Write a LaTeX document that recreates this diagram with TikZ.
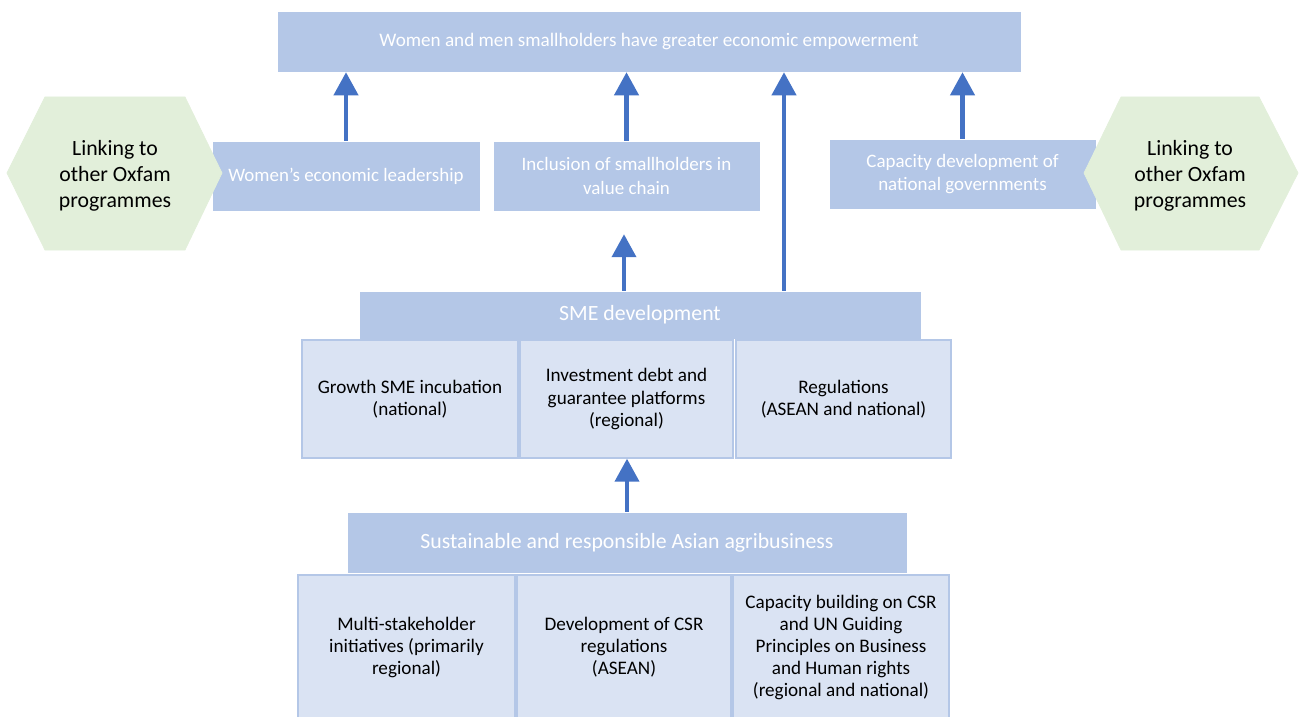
\documentclass[tikz,border=0pt]{standalone}
\usepackage{fontspec}
\setmainfont{Carlito}
\usetikzlibrary{arrows.meta}
\definecolor{midblue}{HTML}{B4C7E7}
\definecolor{paleblue}{HTML}{DAE3F3}
\definecolor{arrowblue}{HTML}{4472C4}
\definecolor{palegreen}{HTML}{E2EFDA}
\tikzset{
  darkbox/.style={fill=midblue, draw=white, line width=0.3pt, text=white, align=center, inner sep=2pt},
  lightbox/.style={fill=paleblue, draw=midblue, line width=0.8pt, text=black, align=center, inner sep=2pt,
    font=\fontsize{10.9}{12.6}\selectfont},
  uparrow/.style={draw=arrowblue, line width=2.3pt, -{Triangle[length=0.46cm,width=0.48cm]}},
  linktext/.style={align=center, font=\fontsize{12.4}{14.8}\selectfont}
}
\begin{document}
\begin{tikzpicture}[x=0.02cm,y=-0.02cm]
   \useasboundingbox (0,0) rectangle (1300,716);
   % outcome at the top
   \node [darkbox, minimum width=14.88cm, minimum height=1.22cm, font=\fontsize{10.9}{13}\selectfont] (goal) at (649,41.5)
     {Women and men smallholders have greater economic empowerment};
   % intermediate outcomes
   \node [darkbox, minimum width=5.36cm, minimum height=1.4cm, font=\fontsize{10.8}{13.6}\selectfont] (women) at (346,176)
     {Women's economic leadership};
   \node [darkbox, minimum width=5.34cm, minimum height=1.4cm, font=\fontsize{10.8}{13.6}\selectfont] (incl) at (626.5,176)
     {Inclusion of smallholders in\\value chain};
   \node [darkbox, minimum width=5.34cm, minimum height=1.4cm, font=\fontsize{10.8}{13.6}\selectfont] (capdev) at (962.5,174)
     {Capacity development of\\national governments};
   % linking hexagons
   \filldraw [palegreen] (7,173)--(45,97)--(185,97)--(222,173)--(185,250)--(45,250)--cycle;
   \filldraw [palegreen] (1084,173)--(1121,97)--(1259,97)--(1298,173)--(1259,250)--(1121,250)--cycle;
   \node [linktext] (linkL) at (115,176) {Linking to\\other Oxfam\\programmes};
   \node [linktext] (linkR) at (1190,176) {Linking to\\other Oxfam\\programmes};
   % SME development
   \node [darkbox, minimum width=11.24cm, minimum height=0.96cm, font=\fontsize{12.4}{14}\selectfont] (sme) at (640,315)
     {SME development};
   \node [lightbox, minimum width=4.32cm, minimum height=2.36cm] (growth) at (410,399)
     {Growth SME incubation\\(national)};
   \node [lightbox, minimum width=4.26cm, minimum height=2.36cm] (invest) at (626.5,399)
     {Investment debt and\\guarantee platforms\\(regional)};
   \node [lightbox, minimum width=4.30cm, minimum height=2.36cm] (regul) at (843.5,399)
     {Regulations\\(ASEAN and national)};
   % agribusiness
   \node [darkbox, minimum width=11.2cm, minimum height=1.22cm, font=\fontsize{12.4}{14}\selectfont] (agri) at (627,542.5)
     {Sustainable and responsible Asian agribusiness};
   \node [lightbox, minimum width=4.34cm, minimum height=2.9cm] (multi) at (406.5,647.5)
     {Multi-stakeholder\\initiatives (primarily\\regional)};
   \node [lightbox, minimum width=4.28cm, minimum height=2.9cm] (csr) at (624,647.5)
     {Development of CSR\\regulations\\(ASEAN)};
   \node [lightbox, minimum width=4.32cm, minimum height=2.9cm] (capbuild) at (841,647.5)
     {Capacity building on CSR\\and UN Guiding\\Principles on Business\\and Human rights\\(regional and national)};
   % arrows
   \draw [uparrow] (women.north) -- (goal.south -| women.north);
   \draw [uparrow] (incl.north) -- (goal.south -| incl.north);
   \draw [uparrow] (capdev.north) -- (goal.south -| capdev.north);
   \draw [uparrow] (sme.north -| 784,0) -- (goal.south -| 784,0);
   \draw [uparrow] (sme.north -| 624,0) -- ([yshift=-0.46cm]incl.south -| 624,0);
   \draw [uparrow] (agri.north) -- (invest.south -| agri.north);
\end{tikzpicture}
\end{document}
